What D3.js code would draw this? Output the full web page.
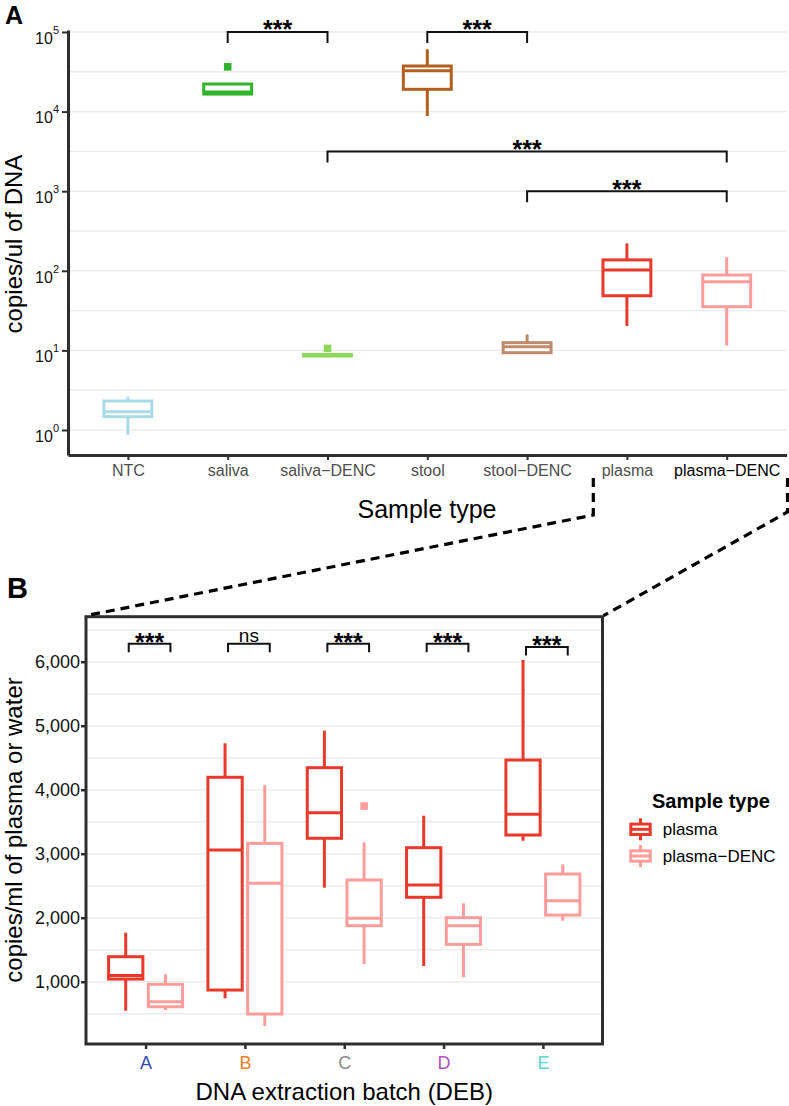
<!DOCTYPE html>
<html>
<head>
<meta charset="utf-8">
<script src="https://cdn.jsdelivr.net/npm/d3@7"></script>
<style>
  body { margin: 0; background: #fff; }
  text { font-family: "Liberation Sans", Arial, Helvetica, sans-serif; }
</style>
</head>
<body>
<div id="chart"></div>
<script>
// ---------- data: panel A (log scale, copies/ul) ----------
var sampleTypes = ["NTC", "saliva", "saliva-DENC", "stool", "stool-DENC", "plasma", "plasma-DENC"];
var sampleLabels = ["NTC", "saliva", "saliva\u2212DENC", "stool", "stool\u2212DENC", "plasma", "plasma\u2212DENC"];
var sampleColors = ["#a9dbe7", "#30b32b", "#8fd65c", "#b45f1f", "#bd8b6b", "#e8392b", "#fc9c9b"];
var lowA  = [0.87, 16600, 8.5, 8800, 9.0, 20.3, 11.5];
var q1A   = [1.47, 16600, 8.5, 19050, 9.36, 48.6, 35.4];
var medA  = [1.70, 17600, 8.7, 32700, 11.1, 102, 73];
var q3A   = [2.31, 22200, 8.9, 37400, 12.5, 137, 88.5];
var highA = [2.62, 22200, 8.9, 60600, 15.9, 221, 148];
var outA  = [[], [36500], [10.6], [], [], [], []];

// significance brackets, panel A
var sigAFrom  = ["saliva", "stool", "saliva-DENC", "stool-DENC"];
var sigATo    = ["saliva-DENC", "stool-DENC", "plasma-DENC", "plasma-DENC"];
var sigAY     = [100000, 100000, 3162, 1000];
var sigALabel = ["***", "***", "***", "***"];

// ---------- data: panel B (linear, copies/ml) ----------
var batches = ["A", "B", "C", "D", "E"];
var batchColors = ["#3449b0", "#f57e20", "#8a8a8a", "#b34fc6", "#5dd3d3"];
var groupsB = ["plasma", "plasma-DENC"];
var groupLabelsB = ["plasma", "plasma\u2212DENC"];
var groupColorsB = ["#e8392b", "#fc9c9b"];

var plasmaLow  = [547, 741, 2469, 1245, 3203];
var plasmaQ1   = [1042, 870, 3241, 2319, 3292];
var plasmaMed  = [1097, 3058, 3641, 2511, 3616];
var plasmaQ3   = [1391, 4194, 4344, 3094, 4464];
var plasmaHigh = [1766, 4725, 4922, 3594, 6027];
var plasmaOut  = [[], [], [], [], []];

var dencLow  = [558, 308, 1277, 1069, 1953];
var dencQ1   = [609, 495, 1875, 1584, 2042];
var dencMed  = [687, 2537, 1991, 1875, 2266];
var dencQ3   = [959, 3162, 2589, 2000, 2683];
var dencHigh = [1116, 4073, 3178, 2225, 2834];
var dencOut  = [[], [], [3745], [], []];

var sigBY     = [6280, 6280, 6280, 6280, 6230];
var sigBLabel = ["***", "ns", "***", "***", "***"];

var ticksB = [1000, 2000, 3000, 4000, 5000, 6000];
var minorB = [500, 1500, 2500, 3500, 4500, 5500, 6500];

// ---------- svg ----------
var svgWidth = 789;
var svgHeight = 1106;

var svg = d3.select("#chart")
  .append("svg")
  .attr("width", svgWidth)
  .attr("height", svgHeight);

var axisColor = "#2e2e2e";
var gridColor = "#ebebeb";

// draw one box with whiskers
function drawBox(g, cx, w, lo, q1, med, q3, hi, outs, yScale, color, sw) {
  g.append("line")
    .attr("x1", cx).attr("x2", cx)
    .attr("y1", yScale(hi)).attr("y2", yScale(q3))
    .attr("stroke", color).attr("stroke-width", sw);
  g.append("line")
    .attr("x1", cx).attr("x2", cx)
    .attr("y1", yScale(q1)).attr("y2", yScale(lo))
    .attr("stroke", color).attr("stroke-width", sw);
  g.append("rect")
    .attr("x", cx - w / 2)
    .attr("y", yScale(q3))
    .attr("width", w)
    .attr("height", Math.max(0.5, yScale(q1) - yScale(q3)))
    .attr("fill", "white")
    .attr("stroke", color)
    .attr("stroke-width", sw);
  g.append("line")
    .attr("x1", cx - w / 2).attr("x2", cx + w / 2)
    .attr("y1", yScale(med)).attr("y2", yScale(med))
    .attr("stroke", color).attr("stroke-width", sw);
  outs.forEach(function(v) {
    g.append("rect")
      .attr("x", cx - 3.8).attr("y", yScale(v) - 3.8)
      .attr("width", 7.6).attr("height", 7.6)
      .attr("fill", color);
  });
}

// ================= PANEL A =================
var xA = d3.scalePoint()
  .domain(sampleTypes)
  .range([68, 786.6])
  .padding(0.6);
var stepA = xA.step();

var yA = d3.scaleLog()
  .domain([Math.pow(10, -0.314), Math.pow(10, 5.025)])
  .range([455, 30]);

var gA = svg.append("g");

// gridlines (major decades + half decades)
var gridA = [];
for (var k = 0; k <= 5; k++) {
  gridA.push(Math.pow(10, k));
  if (k < 5) gridA.push(Math.pow(10, k + 0.5));
}
gA.selectAll(".gridA")
  .data(gridA)
  .enter()
  .append("line")
  .attr("x1", 68).attr("x2", 786.6)
  .attr("y1", d => yA(d)).attr("y2", d => yA(d))
  .attr("stroke", gridColor)
  .attr("stroke-width", 1.4);

// boxes
sampleTypes.forEach(function(s, i) {
  drawBox(gA, xA(s), stepA * 0.48, lowA[i], q1A[i], medA[i], q3A[i], highA[i], outA[i], yA, sampleColors[i], 3);
});

// axes
var yAxisA = gA.append("g")
  .attr("transform", "translate(68,0)")
  .call(d3.axisLeft(yA).tickValues([1, 10, 100, 1000, 10000, 100000]).tickSize(6).tickPadding(3).tickSizeOuter(0));
yAxisA.selectAll(".tick text")
  .text(null)
  .attr("fill", "#111")
  .attr("font-size", 16)
  .attr("dy", "0.7em")
  .each(function(d) {
    var t = d3.select(this);
    t.append("tspan").text("10");
    t.append("tspan")
      .attr("dy", -10)
      .attr("font-size", 11)
      .text(Math.round(Math.log10(d)));
  });

var xAxisA = gA.append("g")
  .attr("transform", "translate(0,455)")
  .call(d3.axisBottom(xA).tickSize(5).tickPadding(5).tickSizeOuter(0).tickFormat((d, i) => sampleLabels[i]));
xAxisA.selectAll(".tick text")
  .attr("font-size", 16)
  .attr("fill", d => d === "plasma-DENC" ? "#000" : "#4d4d4d");

[yAxisA, xAxisA].forEach(function(ax) {
  ax.select(".domain").attr("stroke", axisColor).attr("stroke-width", 3);
  ax.selectAll(".tick line").attr("stroke", axisColor).attr("stroke-width", 2);
});

// significance brackets
sigAFrom.forEach(function(f, i) {
  var x1 = xA(f), x2 = xA(sigATo[i]), y = yA(sigAY[i]);
  gA.append("path")
    .attr("d", "M" + x1 + "," + (y + 11) + "V" + y + "H" + x2 + "V" + (y + 11))
    .attr("fill", "none")
    .attr("stroke", "#111")
    .attr("stroke-width", 2);
  gA.append("text")
    .attr("x", (x1 + x2) / 2)
    .attr("y", y + 6.5)
    .attr("text-anchor", "middle")
    .attr("font-size", 25)
    .attr("font-weight", "bold")
    .text(sigALabel[i]);
});

// titles
gA.append("text")
  .attr("transform", "translate(22,244) rotate(-90)")
  .attr("text-anchor", "middle")
  .attr("font-size", 24)
  .text("copies/ul of DNA");

gA.append("text")
  .attr("x", 427)
  .attr("y", 518)
  .attr("text-anchor", "middle")
  .attr("font-size", 25)
  .text("Sample type");

svg.append("text")
  .attr("x", 5).attr("y", 24)
  .attr("font-size", 25)
  .attr("font-weight", "bold")
  .text("A");

// ================= PANEL B =================
var bLeft = 86, bRight = 602.5, bTop = 616.7, bBottom = 1044;

var xB = d3.scalePoint()
  .domain(batches)
  .range([bLeft, bRight])
  .padding(0.6);
var stepB = xB.step();

var yB = d3.scaleLinear()
  .domain([27, 6703])
  .range([bBottom, bTop]);

var gB = svg.append("g");

// dashed zoom connectors from panel A to panel B
var connector = d3.line();
svg.append("path")
  .attr("d", connector([[593.3, 478], [593.3, 515], [bLeft, bTop - 1]]))
  .attr("fill", "none").attr("stroke", "#000")
  .attr("stroke-width", 3.2).attr("stroke-dasharray", "9,6");
svg.append("path")
  .attr("d", connector([[787.5, 478], [787.5, 512], [bRight + 1, bTop - 1]]))
  .attr("fill", "none").attr("stroke", "#000")
  .attr("stroke-width", 3.2).attr("stroke-dasharray", "9,6");

// gridlines
gB.selectAll(".gridB")
  .data(ticksB.concat(minorB))
  .enter()
  .append("line")
  .attr("x1", bLeft).attr("x2", bRight)
  .attr("y1", d => yB(d)).attr("y2", d => yB(d))
  .attr("stroke", gridColor)
  .attr("stroke-width", 1.4);

// boxes (dodged)
var statsB = [
  [plasmaLow, plasmaQ1, plasmaMed, plasmaQ3, plasmaHigh, plasmaOut],
  [dencLow, dencQ1, dencMed, dencQ3, dencHigh, dencOut]
];
batches.forEach(function(b, i) {
  statsB.forEach(function(st, j) {
    var cx = xB(b) + (j === 0 ? -0.2 : 0.2) * stepB;
    drawBox(gB, cx, stepB * 0.345, st[0][i], st[1][i], st[2][i], st[3][i], st[4][i], st[5][i], yB, groupColorsB[j], 3);
  });
});

// panel border
gB.append("rect")
  .attr("x", bLeft).attr("y", bTop)
  .attr("width", bRight - bLeft).attr("height", bBottom - bTop)
  .attr("fill", "none")
  .attr("stroke", axisColor)
  .attr("stroke-width", 3);

// axes
var yAxisB = gB.append("g")
  .attr("transform", "translate(" + bLeft + ",0)")
  .call(d3.axisLeft(yB).tickValues(ticksB).tickFormat(d3.format(",")).tickSize(5).tickPadding(1));
var xAxisB = gB.append("g")
  .attr("transform", "translate(0," + bBottom + ")")
  .call(d3.axisBottom(xB).tickSize(5).tickPadding(7));

[yAxisB, xAxisB].forEach(function(ax) {
  ax.select(".domain").remove();
  ax.selectAll(".tick line").attr("stroke", axisColor).attr("stroke-width", 2.5);
  ax.selectAll(".tick text").attr("font-size", 18).attr("fill", "#111");
});
xAxisB.selectAll(".tick text").attr("fill", (d, i) => batchColors[i]);

// significance brackets
batches.forEach(function(b, i) {
  var x1 = xB(b) - 0.17 * stepB, x2 = xB(b) + 0.25 * stepB, y = yB(sigBY[i]);
  gB.append("path")
    .attr("d", "M" + x1 + "," + (y + 8.5) + "V" + y + "H" + x2 + "V" + (y + 8.5))
    .attr("fill", "none")
    .attr("stroke", "#111")
    .attr("stroke-width", 2);
  var isStars = sigBLabel[i] === "***";
  gB.append("text")
    .attr("x", (x1 + x2) / 2)
    .attr("y", isStars ? y + 7 : y - 2)
    .attr("text-anchor", "middle")
    .attr("font-size", isStars ? 25 : 19)
    .attr("font-weight", isStars ? "bold" : "normal")
    .text(sigBLabel[i]);
});

// titles
gB.append("text")
  .attr("transform", "translate(22,830) rotate(-90)")
  .attr("text-anchor", "middle")
  .attr("font-size", 24)
  .text("copies/ml of plasma or water");

gB.append("text")
  .attr("x", (bLeft + bRight) / 2)
  .attr("y", 1100)
  .attr("text-anchor", "middle")
  .attr("font-size", 24)
  .text("DNA extraction batch (DEB)");

svg.append("text")
  .attr("x", 7).attr("y", 598)
  .attr("font-size", 29)
  .attr("font-weight", "bold")
  .text("B");

// legend
var legend = svg.append("g");
legend.append("text")
  .attr("x", 652).attr("y", 808)
  .attr("font-size", 20)
  .attr("font-weight", "bold")
  .text("Sample type");

groupsB.forEach(function(gname, j) {
  var cy = 829.3 + j * 26.7;
  var kx = 640.5;
  legend.append("line")
    .attr("x1", kx).attr("x2", kx)
    .attr("y1", cy - 11).attr("y2", cy + 11)
    .attr("stroke", groupColorsB[j]).attr("stroke-width", 3);
  legend.append("rect")
    .attr("x", kx - 9.7).attr("y", cy - 5.2)
    .attr("width", 19.4).attr("height", 10.4)
    .attr("fill", "white")
    .attr("stroke", groupColorsB[j]).attr("stroke-width", 3);
  legend.append("line")
    .attr("x1", kx - 9.7).attr("x2", kx + 9.7)
    .attr("y1", cy).attr("y2", cy)
    .attr("stroke", groupColorsB[j]).attr("stroke-width", 3);
  legend.append("text")
    .attr("x", 662.7).attr("y", cy + 6)
    .attr("font-size", 17)
    .text(groupLabelsB[j]);
});
</script>
</body>
</html>
